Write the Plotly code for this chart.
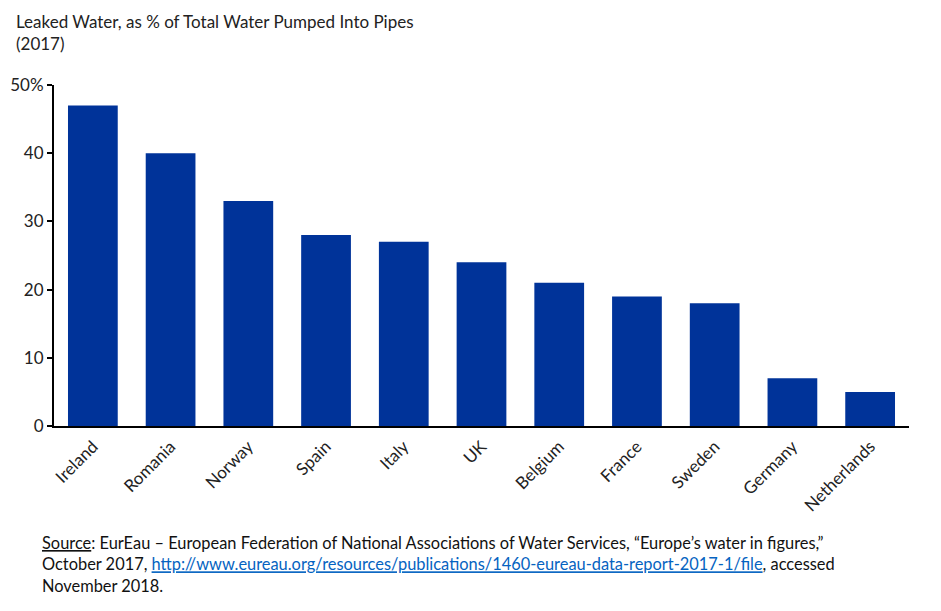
import plotly.graph_objects as go

# data
countries = ["Ireland", "Romania", "Norway", "Spain", "Italy", "UK",
             "Belgium", "France", "Sweden", "Germany", "Netherlands"]
leaked_pct = [47, 40, 33, 28, 27, 24, 21, 19, 18, 7, 5]
y_ticks = [0, 10, 20, 30, 40, 50]
y_labels = ["0", "10", "20", "30", "40", "50%"]

font_main = "Lato, Liberation Sans, Arial"

fig = go.Figure()
fig.add_trace(go.Bar(x=countries, y=leaked_pct, marker_color="#003399",
                     marker_line_width=0))

fig.update_layout(
    width=941, height=611,
    paper_bgcolor="white", plot_bgcolor="white",
    margin=dict(l=46, r=40, t=77, b=193),
    bargap=0.36,
    showlegend=False,
    font=dict(family=font_main, size=17, color="#222"),
)

fig.update_xaxes(
    showline=True, linecolor="black", linewidth=2,
    ticks="", tickangle=-45, tickfont=dict(size=17, color="#222"),
    ticklabelstandoff=2,
    showgrid=False, automargin=False,
)
fig.update_yaxes(
    range=[0, 50], tickvals=y_ticks, ticktext=y_labels,
    showline=True, linecolor="black", linewidth=2,
    ticks="outside", ticklen=5, tickwidth=2, tickcolor="black",
    showgrid=False, zeroline=False, automargin=False,
    tickfont=dict(size=17, color="#222"),
)

# title
fig.add_annotation(
    text="Leaked Water, as % of Total Water Pumped Into Pipes<br>(2017)",
    xref="paper", yref="paper", x=0, xshift=-40, y=1, yshift=76,
    xanchor="left", yanchor="top", align="left", showarrow=False,
    font=dict(size=17, color="#222"),
)

# source note
fig.add_annotation(
    text=("<span style='text-decoration:underline'>Source</span>: EurEau \u2013 European Federation of National "
          "Associations of Water Services, \u201cEurope\u2019s water in figures,\u201d<br>"
          "October 2017, <a href='http://www.eureau.org/resources/publications/1460-eureau-data-report-2017-1/file' "
          "style='color:#0563c1;text-decoration:underline'>http://www.eureau.org/resources/publications/"
          "1460-eureau-data-report-2017-1/file</a>, accessed<br>November 2018."),
    xref="paper", yref="paper", x=0, xshift=-14, y=0, yshift=-105,
    xanchor="left", yanchor="top", align="left", showarrow=False,
    font=dict(size=16.4, color="#111"),
)

fig.write_html("out.html")
